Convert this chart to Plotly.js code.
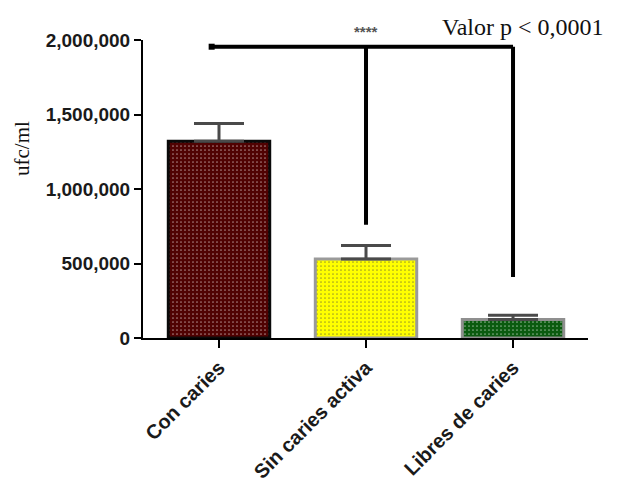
<!DOCTYPE html>
<html>
<head>
<meta charset="utf-8">
<script src="https://cdn.plot.ly/plotly-3.0.1.min.js"></script>
<style>html,body{margin:0;padding:0;background:#fff;}#chart{width:618px;height:485px;}</style>
</head>
<body>
<div id="chart"></div>
<script>
// ---- data ----
const categories = ["Con caries", "Sin caries activa", "Libres de caries"];
const means = [1320000, 530000, 125000];
const sdUpper = [120000, 90000, 28000];
const yTicks = [0, 500000, 1000000, 1500000, 2000000];
const yTickText = ["0", "500,000", "1,000,000", "1,500,000", "2,000,000"];
// significance bracket: top level and where each drop ends
const bracketLevel = 1955000;
const bracketStartX = -0.05;
const bracketDrops = [760000, 410000];   // under "Sin caries activa" and "Libres de caries"
const sigStars = "****";
const pText = "Valor p < 0,0001";
const yTitle = "ufc/ml";

const xIdx = categories.map((c, i) => i);

const barColors = ["#500202", "#ffff00", "#0a5a0f"];
const dotColors = ["#6a0e0e", "#e6e614", "#126a17"];
const lineColors = ["#0a0a0a", "#9a9a9a", "#8f8f8f"];

const bars = {
  type: "bar",
  x: xIdx,
  y: means,
  width: 0.69,
  marker: {
    color: barColors,
    line: {color: lineColors, width: 3},
    pattern: {shape: ".", fillmode: "overlay", fgcolor: dotColors, size: 4, solidity: 0.15}
  },
  error_y: {
    type: "data", symmetric: false, array: sdUpper, arrayminus: [0, 0, 0],
    color: "#4a4a4a", thickness: 3, width: 25
  },
  hoverinfo: "skip",
  showlegend: false
};

const bx = [bracketStartX, xIdx[2], null, xIdx[1], xIdx[1], null, xIdx[2], xIdx[2]];
const by = [bracketLevel, bracketLevel, null, bracketLevel, bracketDrops[0], null, bracketLevel, bracketDrops[1]];
const bracket = {
  type: "scatter", mode: "lines", x: bx, y: by,
  line: {color: "#000", width: 4},
  cliponaxis: false, hoverinfo: "skip", showlegend: false
};
const bracketEnd = {
  type: "scatter", mode: "markers", x: [bracketStartX], y: [bracketLevel],
  marker: {symbol: "square", size: 6, color: "#000"},
  cliponaxis: false, hoverinfo: "skip", showlegend: false
};

const tickFont = {family: "Liberation Sans, Arial, sans-serif", size: 19, color: "#1a1a1a", weight: "bold"};

const layout = {
  width: 618, height: 485,
  margin: {l: 143, r: 30, t: 40, b: 147},
  paper_bgcolor: "#fff", plot_bgcolor: "#fff",
  xaxis: {
    range: [-0.517, 2.51],
    tickvals: xIdx, ticktext: categories,
    tickangle: -45,
    showline: true, linecolor: "#000", linewidth: 2,
    ticks: "outside", ticklen: 8, tickwidth: 2, tickcolor: "#000",
    showgrid: false, zeroline: false,
    tickfont: {family: "Liberation Sans, Arial, sans-serif", size: 20, color: "#1a1a1a", weight: "bold"}
  },
  yaxis: {
    range: [0, 2000000],
    tickvals: yTicks, ticktext: yTickText,
    showline: true, linecolor: "#000", linewidth: 2,
    ticks: "outside", ticklen: 7, tickwidth: 2, tickcolor: "#000",
    showgrid: false, zeroline: false,
    tickfont: tickFont
  },
  annotations: [
    {
      text: yTitle, xref: "paper", yref: "paper", x: -0.272, y: 0.6376,
      textangle: -90, showarrow: false, xanchor: "center", yanchor: "middle",
      font: {family: "Liberation Serif, Times New Roman, serif", size: 21, color: "#111"}
    },
    {
      text: sigStars, xref: "x", yref: "paper", x: xIdx[1], y: 1.03,
      showarrow: false, xanchor: "center", yanchor: "middle",
      font: {family: "Liberation Sans, Arial, sans-serif", size: 15, color: "#555", weight: "bold"}
    },
    {
      text: pText, xref: "paper", yref: "paper", x: 0.855, y: 1.044,
      showarrow: false, xanchor: "center", yanchor: "middle",
      bgcolor: "#fff", borderpad: 2,
      font: {family: "Liberation Serif, Times New Roman, serif", size: 24, color: "#111"}
    }
  ]
};

Plotly.newPlot("chart", [bars, bracket, bracketEnd], layout, {displayModeBar: false, staticPlot: true});
</script>
</body>
</html>
